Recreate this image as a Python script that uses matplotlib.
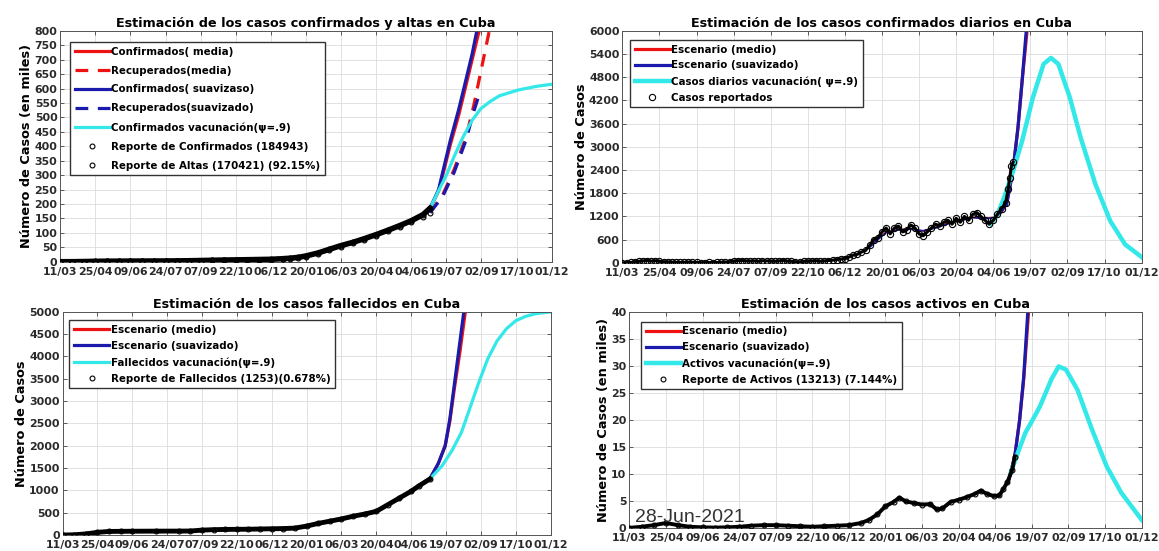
import matplotlib
matplotlib.use('Agg')
import matplotlib.pyplot as plt
import numpy as np

plt.rcParams['font.family'] = ['DejaVu Sans']
plt.rcParams['font.weight'] = 'bold'

# dias desde 11/03/2020
fechas = ['11/03', '25/04', '09/06', '24/07', '07/09', '22/10', '06/12', '20/01',
          '06/03', '20/04', '04/06', '19/07', '02/09', '17/10', '01/12']

# --- confirmados y altas (miles) ---
d_acum = [0, 15, 30, 45, 60, 75, 90, 105, 120, 135, 150, 165, 180, 195, 210, 225, 240,
          255, 270, 285, 295, 305, 315, 330, 345, 360, 375, 390, 405, 420, 435, 450, 465, 474]
conf = [0, 0.1, 0.6, 1.4, 1.8, 1.9, 2.2, 2.3, 2.4, 2.6, 2.9, 3.4, 4.2, 5.0, 5.8, 6.4, 7.0,
        7.7, 8.4, 10.5, 12.2, 15.0, 20, 30, 43, 56, 67, 80, 94, 109, 125, 142, 163, 185]
altas = [0, 0.0, 0.1, 0.6, 1.0, 1.5, 2.0, 2.1, 2.3, 2.4, 2.6, 3.0, 3.7, 4.5, 5.4, 6.0, 6.6,
         7.1, 7.6, 8.8, 9.6, 12.0, 16, 26, 39, 52, 64, 77, 90, 105, 120, 136, 155, 170]

d_conf_med = [474, 485, 492, 500, 511, 520, 528, 537, 545]
conf_med = [185, 245, 318, 405, 510, 610, 700, 800, 900]
d_conf_suav = [474, 485, 492, 500, 511, 520, 528, 534, 542]
conf_suav = [185, 250, 330, 420, 530, 630, 720, 800, 900]
d_rec_med = [474, 490, 505, 520, 530, 540, 550, 556]
rec_med = [170, 230, 320, 430, 540, 670, 800, 880]
d_rec_suav = [474, 490, 505, 520, 530, 536]
rec_suav = [170, 225, 310, 420, 520, 570]
d_conf_vac = [474, 483, 495, 505, 516, 528, 539, 551, 563, 587, 611, 630]
conf_vac = [185, 235, 300, 365, 430, 490, 530, 555, 575, 595, 608, 615]

# --- casos diarios ---
d_diario = list(range(0, 470, 5)) + [468, 470, 472, 474]
diario = [0, 5, 10, 30, 40, 50, 60, 45, 55, 40, 30, 25, 20, 15, 10, 15, 20, 15, 10, 5,
          5, 10, 5, 10, 15, 20, 30, 45, 55, 60, 50, 45, 50, 40, 55, 50, 45, 40, 50, 60,
          45, 40, 30, 25, 40, 45, 50, 55, 40, 50, 60, 70, 80, 100, 110, 150, 200, 220, 280, 320,
          450, 600, 650, 800, 900, 750, 900, 950, 800, 850, 980, 900, 750, 700, 800, 900, 1000, 950,
          1050, 1100, 1000, 1150, 1050, 1200, 1100, 1250, 1300, 1200, 1100, 1000, 1100, 1250, 1400, 1550,
          1900, 2200, 2500, 2600]
d_diario_med = [300, 310, 320, 335, 350, 365, 380, 395, 410, 425, 440, 452, 460, 466, 474, 480, 485, 491, 494]
diario_med = [420, 620, 800, 860, 880, 820, 920, 1030, 1100, 1180, 1150, 1180, 1300, 1500, 2400, 3500, 4700, 6000, 6500]
d_diario_suav = [300, 310, 320, 335, 350, 365, 380, 395, 410, 425, 440, 452, 460, 466, 474, 480, 485, 490, 493]
diario_suav = [400, 600, 780, 850, 870, 830, 900, 1010, 1090, 1170, 1140, 1170, 1300, 1500, 2400, 3500, 4700, 6000, 6500]
d_diario_vac = [447, 455, 463, 474, 485, 498, 511, 520, 529, 543, 556, 574, 592, 610, 630]
diario_vac = [1000, 1250, 1680, 2370, 3150, 4270, 5140, 5300, 5140, 4270, 3240, 2030, 1080, 475, 150]

# --- fallecidos ---
d_fall = [0, 15, 30, 45, 60, 75, 90, 120, 150, 165, 180, 195, 210, 225, 240, 255, 270, 285,
          300, 315, 330, 345, 360, 375, 390, 405, 420, 435, 450, 460, 474]
fall = [0, 5, 25, 60, 80, 83, 85, 87, 88, 90, 110, 120, 125, 128, 130, 135, 140, 145,
        155, 200, 260, 310, 360, 420, 470, 530, 680, 830, 980, 1100, 1253]
d_fall_med = [474, 485, 494, 500, 506, 513, 520, 524]
fall_med = [1253, 1600, 2000, 2550, 3300, 4100, 5000, 5400]
d_fall_suav = [474, 485, 494, 500, 506, 512, 518, 522]
fall_suav = [1253, 1600, 2000, 2600, 3400, 4200, 5000, 5400]
d_fall_vac = [474, 490, 503, 515, 526, 537, 549, 561, 573, 585, 598, 611, 630]
fall_vac = [1253, 1550, 1900, 2300, 2850, 3400, 3950, 4350, 4620, 4800, 4900, 4960, 5000]

# --- activos (miles) ---
d_act = [0, 15, 30, 45, 60, 75, 90, 105, 120, 135, 150, 165, 180, 195, 210, 225, 240, 255,
         270, 285, 295, 305, 315, 325, 332, 340, 350, 360, 370, 378, 385, 395, 405, 415, 425,
         432, 440, 448, 455, 460, 465, 471, 474]
act = [0, 0.2, 0.5, 0.9, 0.5, 0.2, 0.1, 0.05, 0.1, 0.2, 0.4, 0.5, 0.5, 0.4, 0.3, 0.2, 0.3, 0.4,
       0.5, 0.9, 1.5, 2.5, 4.0, 4.8, 5.6, 4.9, 4.6, 4.3, 4.4, 3.4, 3.6, 4.8, 5.2, 5.7, 6.3,
       6.9, 6.3, 5.9, 6.0, 7.2, 8.5, 10.8, 13.2]
d_act_med = [466, 474, 480, 485, 491, 494]
act_med = [8.5, 13.2, 20, 27.5, 40, 44]
d_act_suav = [466, 474, 480, 485, 490, 493]
act_suav = [8.5, 13.2, 20, 28, 40, 44]
d_act_vac = [469, 478, 487, 496, 505, 512, 519, 528, 537, 551, 569, 587, 605, 630]
act_vac = [10.2, 14.0, 17.6, 20.0, 22.5, 25.0, 27.5, 29.9, 29.3, 25.6, 18.2, 11.4, 6.5, 1.5]

rojo = '#ee1111'
azul = '#1a1aac'
cian = '#33e8e8'

fig = plt.figure(figsize=(11.59, 5.51), dpi=100)
ax1 = fig.add_axes([0.052, 0.525, 0.424, 0.419])
ax2 = fig.add_axes([0.537, 0.523, 0.448, 0.421])
ax3 = fig.add_axes([0.054, 0.029, 0.421, 0.405])
ax4 = fig.add_axes([0.543, 0.042, 0.442, 0.392])


def formato(ax, ymax, ystep, titulo, ylab):
    ax.set_xlim(0, 630)
    ax.set_ylim(0, ymax)
    ax.set_xticks(np.arange(0, 631, 45))
    ax.set_xticklabels(fechas, fontsize=7.9, fontweight='bold', color='#2a2a2a')
    ax.set_yticks(np.arange(0, ymax + 1, ystep))
    ax.tick_params(axis='y', labelsize=7.9, labelcolor='#2a2a2a', pad=2)
    ax.tick_params(axis='x', pad=3.5)
    ax.tick_params(direction='in', top=True, right=True, length=3, width=0.6,
                   color='#444444')
    ax.grid(True, color='#dcdcdc', linewidth=0.6)
    ax.set_axisbelow(True)
    for s in ax.spines.values():
        s.set_color('#555555')
        s.set_linewidth(0.7)
    ax.set_title(titulo, fontsize=9.2, fontweight='bold', pad=3)
    ax.set_ylabel(ylab, fontsize=9.3, fontweight='bold', labelpad=1)


def leyenda(ax, x0, y0, esp):
    ax.legend(loc='upper left', handlelength=3.4, handletextpad=0.15,
              borderpad=0.45, labelspacing=esp, fancybox=False, framealpha=1,
              edgecolor='#333333', bbox_to_anchor=(x0, y0), borderaxespad=0,
              prop={'weight': 'bold', 'size': 7.4})


def datos(ax, d, v, lab, lw=3.5, ms=3.5):
    ax.plot(d, v, '-', color='k', lw=lw, zorder=4)
    ax.plot(d, v, 'o', mfc='none', mec='k', mew=0.8, ms=ms, label=lab, zorder=5)


# Panel 1
ax1.plot(d_conf_med, conf_med, '-', color=rojo, lw=2.3, label='Confirmados( media)')
ax1.plot(d_rec_med, rec_med, '--', color=rojo, lw=2.3, dashes=(4, 3), label='Recuperados(media)')
ax1.plot(d_conf_suav, conf_suav, '-', color=azul, lw=2.3, label='Confirmados( suavizaso)')
ax1.plot(d_rec_suav, rec_suav, '--', color=azul, lw=2.3, dashes=(4, 3), label='Recuperados(suavizado)')
ax1.plot(d_conf_vac, conf_vac, '-', color=cian, lw=2.3, label='Confirmados vacunación(ψ=.9)')
datos(ax1, d_acum, conf, 'Reporte de Confirmados (184943)', lw=4)
ax1.plot(d_acum, altas, 'o', mfc='none', mec='k', mew=0.8, ms=3.5,
         label='Reporte de Altas (170421) (92.15%)', zorder=5)
formato(ax1, 800, 50, 'Estimación de los casos confirmados y altas en Cuba',
        'Número de Casos (en miles)')
leyenda(ax1, 0.02, 0.952, 0.87)

# Panel 2: ajuste fino sobre los datos y proyección gruesa
ax2.plot(d_diario_med, diario_med, '-', color=rojo, lw=1.2)
ax2.plot(d_diario_suav, diario_suav, '-', color=azul, lw=1.2)
ax2.plot(d_diario_med[13:], diario_med[13:], '-', color=rojo, lw=2.3, label='Escenario (medio)')
ax2.plot(d_diario_suav[13:], diario_suav[13:], '-', color=azul, lw=2.3, label='Escenario (suavizado)')
ax2.plot(d_diario_vac, diario_vac, '-', color=cian, lw=3.2, label='Casos diarios vacunación( ψ=.9)')
ax2.plot(d_diario, diario, '-', color='k', lw=2.2, zorder=4)
ax2.plot(d_diario, diario, 'o', mfc='none', mec='k', mew=0.8, ms=4.5,
         label='Casos reportados', zorder=5)
formato(ax2, 6000, 600, 'Estimación de los casos confirmados diarios en Cuba', 'Número de Casos')
leyenda(ax2, 0.015, 0.961, 0.57)

# Panel 3
ax3.plot(d_fall_med, fall_med, '-', color=rojo, lw=2.3, label='Escenario (medio)')
ax3.plot(d_fall_suav, fall_suav, '-', color=azul, lw=2.3, label='Escenario (suavizado)')
ax3.plot(d_fall_vac, fall_vac, '-', color=cian, lw=2.3, label='Fallecidos vacunación(ψ=.9)')
datos(ax3, d_fall, fall, 'Reporte de Fallecidos (1253)(0.678%)')
formato(ax3, 5000, 500, 'Estimación de los casos fallecidos en Cuba', 'Número de Casos')
leyenda(ax3, 0.014, 0.964, 0.61)

# Panel 4
ax4.plot(d_act_med, act_med, '-', color=rojo, lw=2.3, label='Escenario (medio)')
ax4.plot(d_act_suav, act_suav, '-', color=azul, lw=2.3, label='Escenario (suavizado)')
ax4.plot(d_act_vac, act_vac, '-', color=cian, lw=3.2, label='Activos vacunación(ψ=.9)')
datos(ax4, d_act, act, 'Reporte de Activos (13213) (7.144%)', lw=2.8)
formato(ax4, 40, 5, 'Estimación de los casos activos en Cuba', 'Número de Casos (en miles)')
leyenda(ax4, 0.023, 0.954, 0.57)
ax4.text(0.012, 0.025, '28-Jun-2021', transform=ax4.transAxes, fontsize=14,
         fontweight='normal', family='Liberation Sans', color='#333333', zorder=6)

fig.savefig('out.png', dpi=100)
